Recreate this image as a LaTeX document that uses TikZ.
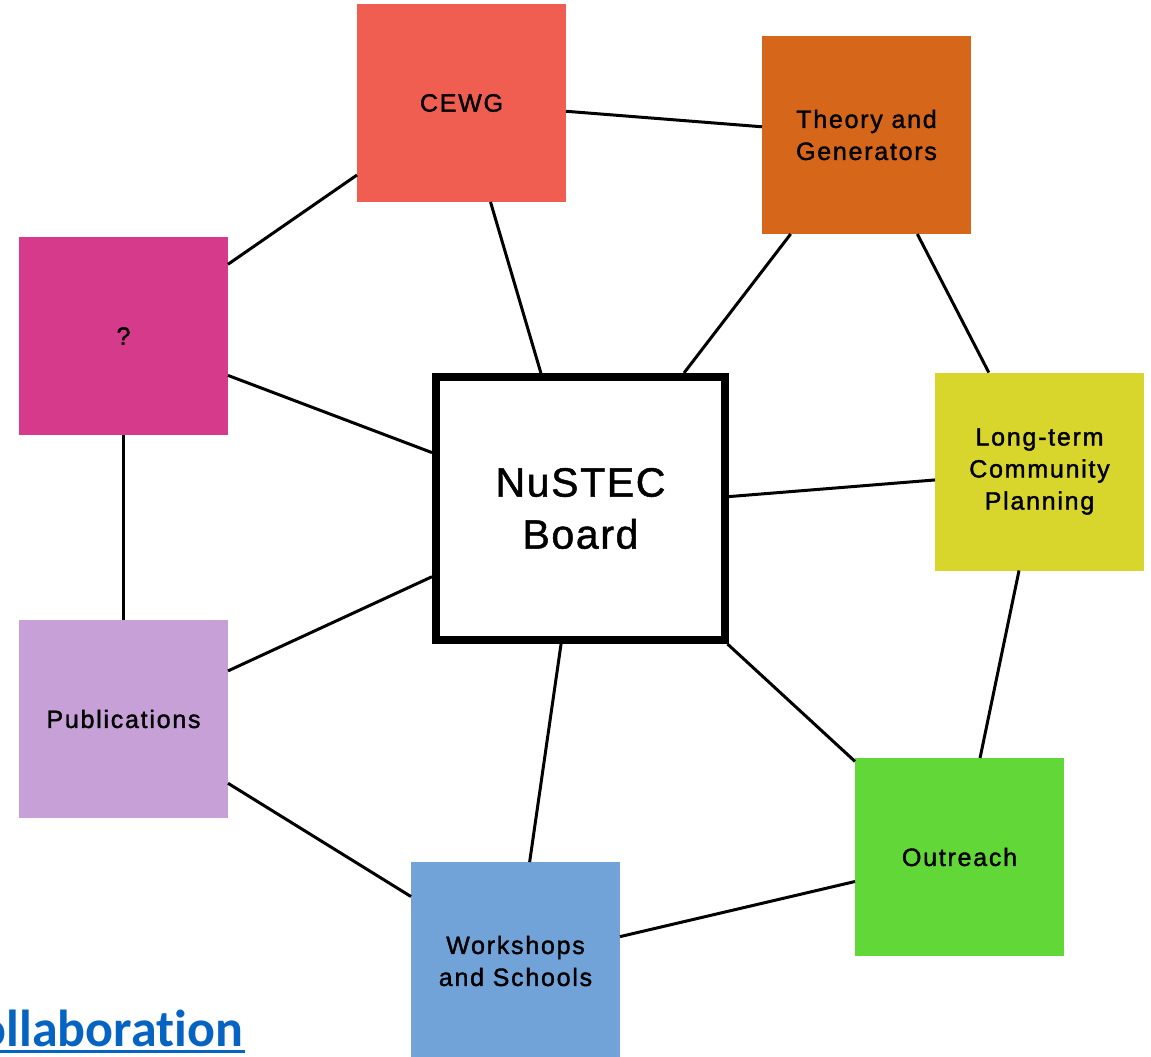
\documentclass[tikz,border=0pt]{standalone}
\usepackage{fontspec}
\setmainfont{Liberation Sans}
\newfontfamily\boxfont[LetterSpace=7, FakeBold=1.5]{Liberation Sans}
\newfontfamily\boardfont[LetterSpace=4, FakeBold=1.2]{Liberation Sans}
\newfontfamily\calib[Ligatures=NoCommon]{Carlito}
\definecolor{cewg}{HTML}{EF5E50}
\definecolor{theory}{HTML}{D6661A}
\definecolor{qmark}{HTML}{D63A8B}
\definecolor{longterm}{HTML}{D8D62C}
\definecolor{publ}{HTML}{C6A0D6}
\definecolor{outr}{HTML}{62D838}
\definecolor{works}{HTML}{72A3D8}
\definecolor{linkblue}{HTML}{0563C1}
\tikzset{
  sq/.style={rectangle, inner sep=0pt, outer sep=0pt, minimum width=209pt, minimum height=198pt,
    align=center, text=black, font=\boxfont\fontsize{25}{32}\selectfont},
  board/.style={rectangle, draw=black, line width=8pt, fill=white, inner sep=0pt, outer sep=4pt,
    minimum width=289pt, minimum height=263pt, align=center, font=\boardfont\fontsize{41}{52}\selectfont},
  conn/.style={line width=3pt, black}
}
\begin{document}
\begin{tikzpicture}[x=1pt,y=-1pt]
\useasboundingbox (0,0) rectangle (1151,1057);
\clip (0,0) rectangle (1151,1057);
\fill[white] (0,0) rectangle (1151,1057);
\node[sq, fill=cewg] (cewg) at (461.5,103) {CEWG};
\node[sq, fill=theory] (theory) at (866.5,135) {Theory and\\Generators};
\node[sq, fill=qmark] (q) at (123.5,336) {?};
\node[sq, fill=longterm] (long) at (1039.5,471.5) {Long-term\\Community\\Planning};
\node[sq, fill=publ] (pub) at (123.5,719) {Publications};
\node[sq, fill=outr] (out) at (959.5,857) {Outreach};
\node[sq, fill=works] (ws) at (515.5,961) {Workshops\\and Schools};
\node[board] (nb) at (580.5,508.5) {NuSTEC\\Board};
\draw[conn] (cewg) -- (theory);
\draw[conn] (cewg) -- (q);
\draw[conn] (cewg) -- (nb);
\draw[conn] (theory) -- (nb);
\draw[conn] (theory) -- (long);
\draw[conn] (q) -- (nb);
\draw[conn] (q) -- (pub);
\draw[conn] (long) -- (nb);
\draw[conn] (long) -- (out);
\draw[conn] (pub) -- (nb);
\draw[conn] (pub) -- (ws);
\draw[conn] (nb) -- (ws);
\draw[conn] (nb) -- (out);
\draw[conn] (out) -- (ws);
\node[anchor=base east, inner sep=0pt, text=linkblue, font=\calib\bfseries\fontsize{52}{60}\selectfont] (collab) at (243,1046) {Collaboration};
\draw[linkblue, line width=3pt] (collab.base west) ++(0,5) coordinate (ul1) -- (collab.base east |- ul1) -- ++(2,0);
\end{tikzpicture}
\end{document}
